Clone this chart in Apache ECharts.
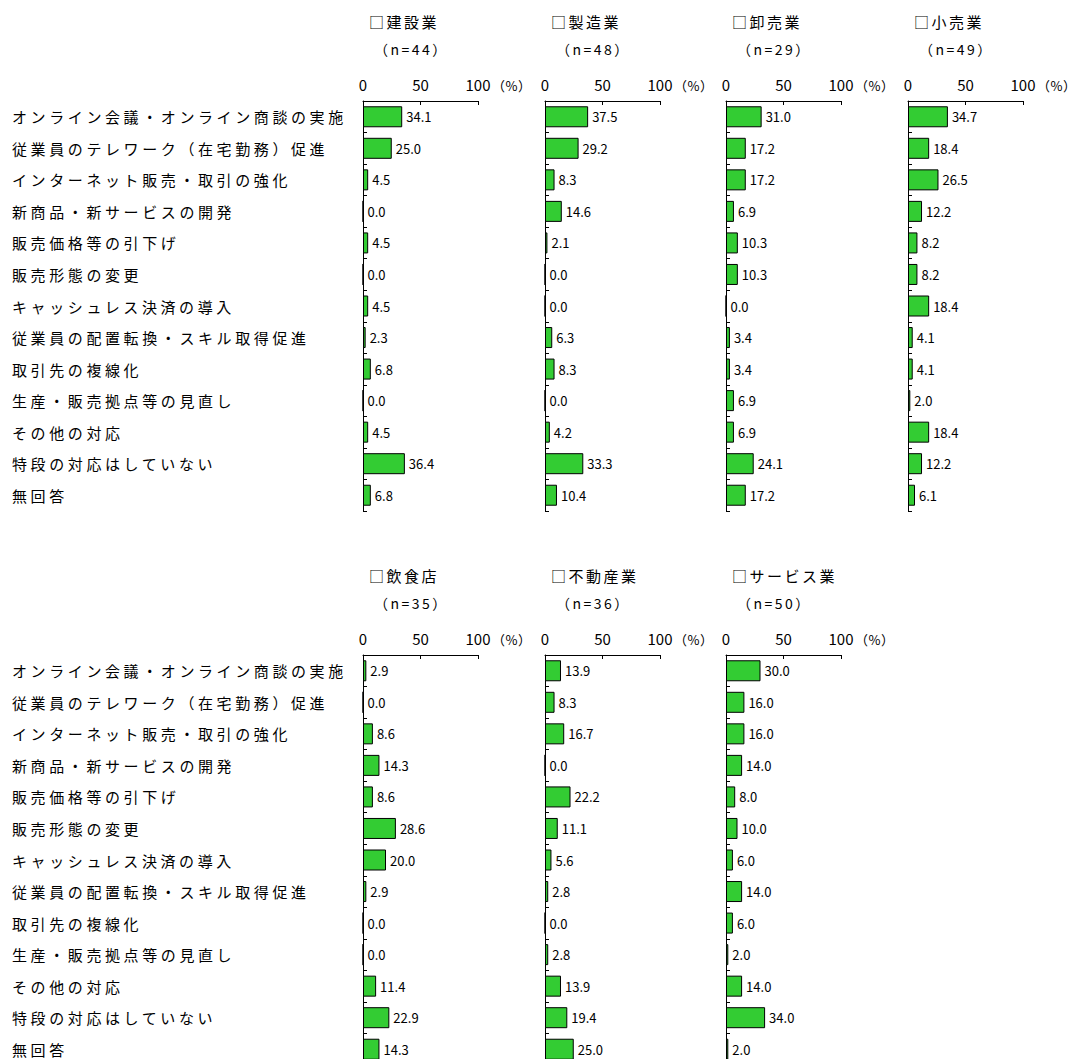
<!DOCTYPE html>
<html>
<head>
<meta charset="utf-8">
<script src="https://cdn.jsdelivr.net/npm/echarts@6/dist/echarts.min.js"></script>
<style>
  html, body { margin: 0; padding: 0; background: #fff; }
  #chart { width: 1076px; height: 1059px; }
</style>
</head>
<body>
<div id="chart"></div>
<script>
// Measures taken in response to the situation, by industry (% of respondents)
const categories = [
  'オンライン会議・オンライン商談の実施',
  '従業員のテレワーク（在宅勤務）促進',
  'インターネット販売・取引の強化',
  '新商品・新サービスの開発',
  '販売価格等の引下げ',
  '販売形態の変更',
  'キャッシュレス決済の導入',
  '従業員の配置転換・スキル取得促進',
  '取引先の複線化',
  '生産・販売拠点等の見直し',
  'その他の対応',
  '特段の対応はしていない',
  '無回答'
];

const industries = ['建設業', '製造業', '卸売業', '小売業', '飲食店', '不動産業', 'サービス業'];
const sampleSizes = [44, 48, 29, 49, 35, 36, 50];

const construction  = [34.1, 25.0, 4.5, 0.0, 4.5, 0.0, 4.5, 2.3, 6.8, 0.0, 4.5, 36.4, 6.8];
const manufacturing = [37.5, 29.2, 8.3, 14.6, 2.1, 0.0, 0.0, 6.3, 8.3, 0.0, 4.2, 33.3, 10.4];
const wholesale     = [31.0, 17.2, 17.2, 6.9, 10.3, 10.3, 0.0, 3.4, 3.4, 6.9, 6.9, 24.1, 17.2];
const retail        = [34.7, 18.4, 26.5, 12.2, 8.2, 8.2, 18.4, 4.1, 4.1, 2.0, 18.4, 12.2, 6.1];
const restaurants   = [2.9, 0.0, 8.6, 14.3, 8.6, 28.6, 20.0, 2.9, 0.0, 0.0, 11.4, 22.9, 14.3];
const realEstate    = [13.9, 8.3, 16.7, 0.0, 22.2, 11.1, 5.6, 2.8, 0.0, 2.8, 13.9, 19.4, 25.0];
const services      = [30.0, 16.0, 16.0, 14.0, 8.0, 10.0, 6.0, 14.0, 6.0, 2.0, 14.0, 34.0, 2.0];

const seriesValues = [construction, manufacturing, wholesale, retail, restaurants, realEstate, services];

const axisTicks = { min: 0, max: 100, interval: 50 };
const unitLabel = '（%）';

// Panel layout: four panels on the upper row, three on the lower row
const FONT = '"Noto Sans CJK JP", sans-serif';
const panelLeft = [363, 545, 726, 908, 363, 545, 726];
const panelTop = [101, 101, 101, 101, 655, 655, 655];
const panelWidth = 115;
const panelHeight = 410;
const labelLeft = 12;

const titleText = name => '□' + name;
const sizeText = n => '（n=' + n + '）';

const grids = [], xAxes = [], yAxes = [], series = [], graphics = [];

industries.forEach((name, i) => {
  const left = panelLeft[i], top = panelTop[i];
  const showCats = (i === 0 || i === 4);

  grids.push({
    left: left, top: top, width: panelWidth, height: panelHeight,
    containLabel: false, outerBoundsMode: 'none'
  });

  xAxes.push({
    gridIndex: i,
    type: 'value',
    position: 'top',
    min: axisTicks.min,
    max: axisTicks.max,
    interval: axisTicks.interval,
    axisLine: { show: true, lineStyle: { color: '#000', width: 1 } },
    axisTick: { show: true, inside: true, length: 4, lineStyle: { color: '#000' } },
    axisLabel: { show: true, margin: 9, fontSize: 15, color: '#000', fontFamily: FONT },
    splitLine: { show: false }
  });

  yAxes.push({
    gridIndex: i,
    type: 'category',
    inverse: true,
    data: categories,
    axisLine: { show: true, lineStyle: { color: '#000', width: 1 } },
    axisTick: { show: true, inside: true, length: 4, lineStyle: { color: '#000' } },
    axisLabel: {
      show: showCats,
      align: 'left',
      margin: left - labelLeft,
      fontSize: 15,
      color: '#000',
      fontFamily: FONT
    },
    splitLine: { show: false }
  });

  series.push({
    type: 'bar',
    name: name,
    xAxisIndex: i,
    yAxisIndex: i,
    data: seriesValues[i],
    barWidth: 21,
    itemStyle: { color: '#33cc33', borderColor: '#000', borderWidth: 1 },
    label: {
      show: true,
      position: 'right',
      distance: 4,
      fontSize: 13,
      color: '#000',
      fontFamily: FONT,
      formatter: p => p.value.toFixed(1)
    }
  });

  graphics.push({
    type: 'text', left: left + 6, top: top - 87,
    style: { text: titleText(name), fontSize: 15, fontFamily: FONT, fill: '#000' }
  });
  graphics.push({
    type: 'text', left: left + 11, top: top - 59,
    style: { text: sizeText(sampleSizes[i]), fontSize: 14, fontFamily: FONT, fill: '#000' }
  });
  graphics.push({
    type: 'text', left: left + panelWidth + 14, top: top - 22,
    style: { text: unitLabel, fontSize: 13, fontFamily: FONT, fill: '#000' }
  });
});

const chart = echarts.init(document.getElementById('chart'), null, { renderer: 'svg' });
chart.setOption({
  animation: false,
  backgroundColor: '#fff',
  textStyle: { fontFamily: FONT },
  grid: grids,
  xAxis: xAxes,
  yAxis: yAxes,
  series: series,
  graphic: graphics
});

// Letter spacing for the Japanese labels (row names, panel titles, sample sizes)
const spacing = new Map();
categories.forEach(c => spacing.set(c, '3.6px'));
industries.forEach(n => spacing.set(titleText(n), '2.5px'));
sampleSizes.forEach(n => spacing.set(sizeText(n), '2.5px'));
spacing.set(unitLabel, '0.5px');

function spaceLabels() {
  document.querySelectorAll('#chart svg text').forEach(t => {
    const s = spacing.get(t.textContent);
    if (s) t.style.letterSpacing = s;
  });
}
spaceLabels();
chart.on('finished', spaceLabels);
</script>
</body>
</html>
